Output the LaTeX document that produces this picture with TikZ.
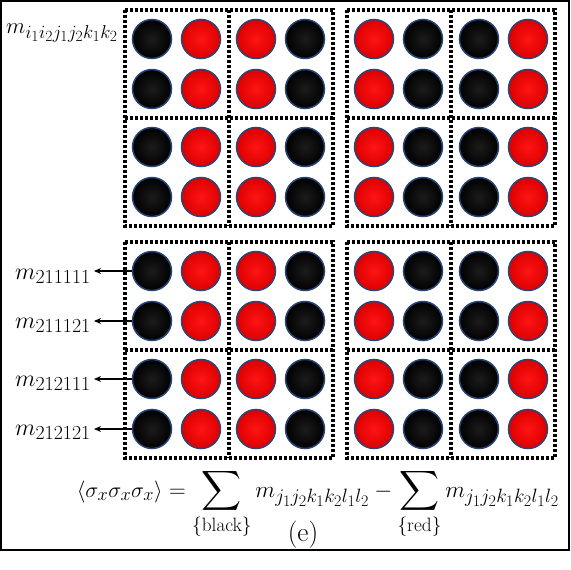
\documentclass[tikz,border=0pt]{standalone}
\usepackage{graphicx}
\usepackage{exscale}
\usetikzlibrary{arrows.meta}
\definecolor{rim}{RGB}{40,70,120}
\definecolor{redin}{RGB}{255,20,20}
\definecolor{redout}{RGB}{220,0,0}
\definecolor{blkin}{RGB}{28,28,28}
\definecolor{blkout}{RGB}{0,0,0}
\newcommand{\bigtxt}[2][0.93]{\scalebox{#1}{\Huge #2}}
\newcommand{\bigsum}{\mathop{\vcenter{\hbox{\scalebox{1.2}{$\displaystyle\sum$}}}}\limits}
\tikzset{
  ball/.style={circle, minimum size=39pt, inner sep=0pt, draw=rim, line width=1.5pt, shading=radial},
  redball/.style={ball, inner color=redin, outer color=redout},
  blackball/.style={ball, inner color=blkin, outer color=blkout},
  blockbox/.style={line width=3.2pt, dash pattern=on 3pt off 2pt, black},
  frame/.style={line width=1.5pt, black},
  lbl/.style={inner sep=0pt},
  pointer/.style={line width=1.3pt, -{Stealth[length=7pt,width=6pt]}}
}
\begin{document}
\begin{tikzpicture}[x=1pt,y=-1pt]
\useasboundingbox (0,0) rectangle (571,570);
\fill[white] (0,0) rectangle (571,570);
\draw[frame] (1,1) rectangle (569,550);
% block groups: outline plus dividers
\foreach \gx in {125,347}{
  \foreach \gy in {10,242}{
    \draw[blockbox] (\gx,\gy) rectangle ++(208,216);
    \draw[blockbox] (\gx+104,\gy) -- ++(0,216);
    \draw[blockbox] (\gx,\gy+108) -- ++(208,0);
  }
}
% balls
\foreach \bx [count=\i] in {125,229,347,452}{
  \foreach \by [count=\j] in {10,118,242,350}{
    \foreach \ox [count=\k] in {27,76}{
      \foreach \oy [count=\l] in {29,79}{
        \pgfmathtruncatemacro{\col}{2*(\i-1)+\k}
        \pgfmathtruncatemacro{\row}{2*(\j-1)+\l}
        \pgfmathtruncatemacro{\isred}{(\col==2)||(\col==3)||(\col==5)||(\col==8)}
        \ifnum\isred=1
          \node[redball] (c-\row-\col) at (\bx+\ox,\by+\oy) {};
        \else
          \node[blackball] (c-\row-\col) at (\bx+\ox,\by+\oy) {};
        \fi
      }
    }
  }
}
% labels
\node[lbl, anchor=base east] (top) at (118,33) {\bigtxt[0.9]{$m_{i_1i_2j_1j_2k_1k_2}$}};
\node[lbl, anchor=base east] (l5) at (91,279) {\bigtxt[0.96]{$m_{211111}$}};
\node[lbl, anchor=base east] (l6) at (91,328) {\bigtxt[0.96]{$m_{211121}$}};
\node[lbl, anchor=base east] (l7) at (91,386) {\bigtxt[0.96]{$m_{212111}$}};
\node[lbl, anchor=base east] (l8) at (91,435) {\bigtxt[0.96]{$m_{212121}$}};
\foreach \r in {5,6,7,8}{
  \draw[pointer] (c-\r-1.west) -- ([xshift=3pt]c-\r-1.west -| l\r.east);
}
% formula
\node[lbl, anchor=base] (formula) at (318,497) {\bigtxt{$\displaystyle \scalebox{0.95}{$\langle\sigma_x\sigma_x\sigma_x\rangle$} = \bigsum_{\{\mathrm{black}\}} m_{j_1j_2k_1k_2l_1l_2} - \bigsum_{\{\mathrm{red}\}} m_{j_1j_2k_1k_2l_1l_2}$}};
\node[lbl, anchor=base] (tag) at (303,541) {\scalebox{1.1}{\Huge (e)}};
\end{tikzpicture}
\end{document}
